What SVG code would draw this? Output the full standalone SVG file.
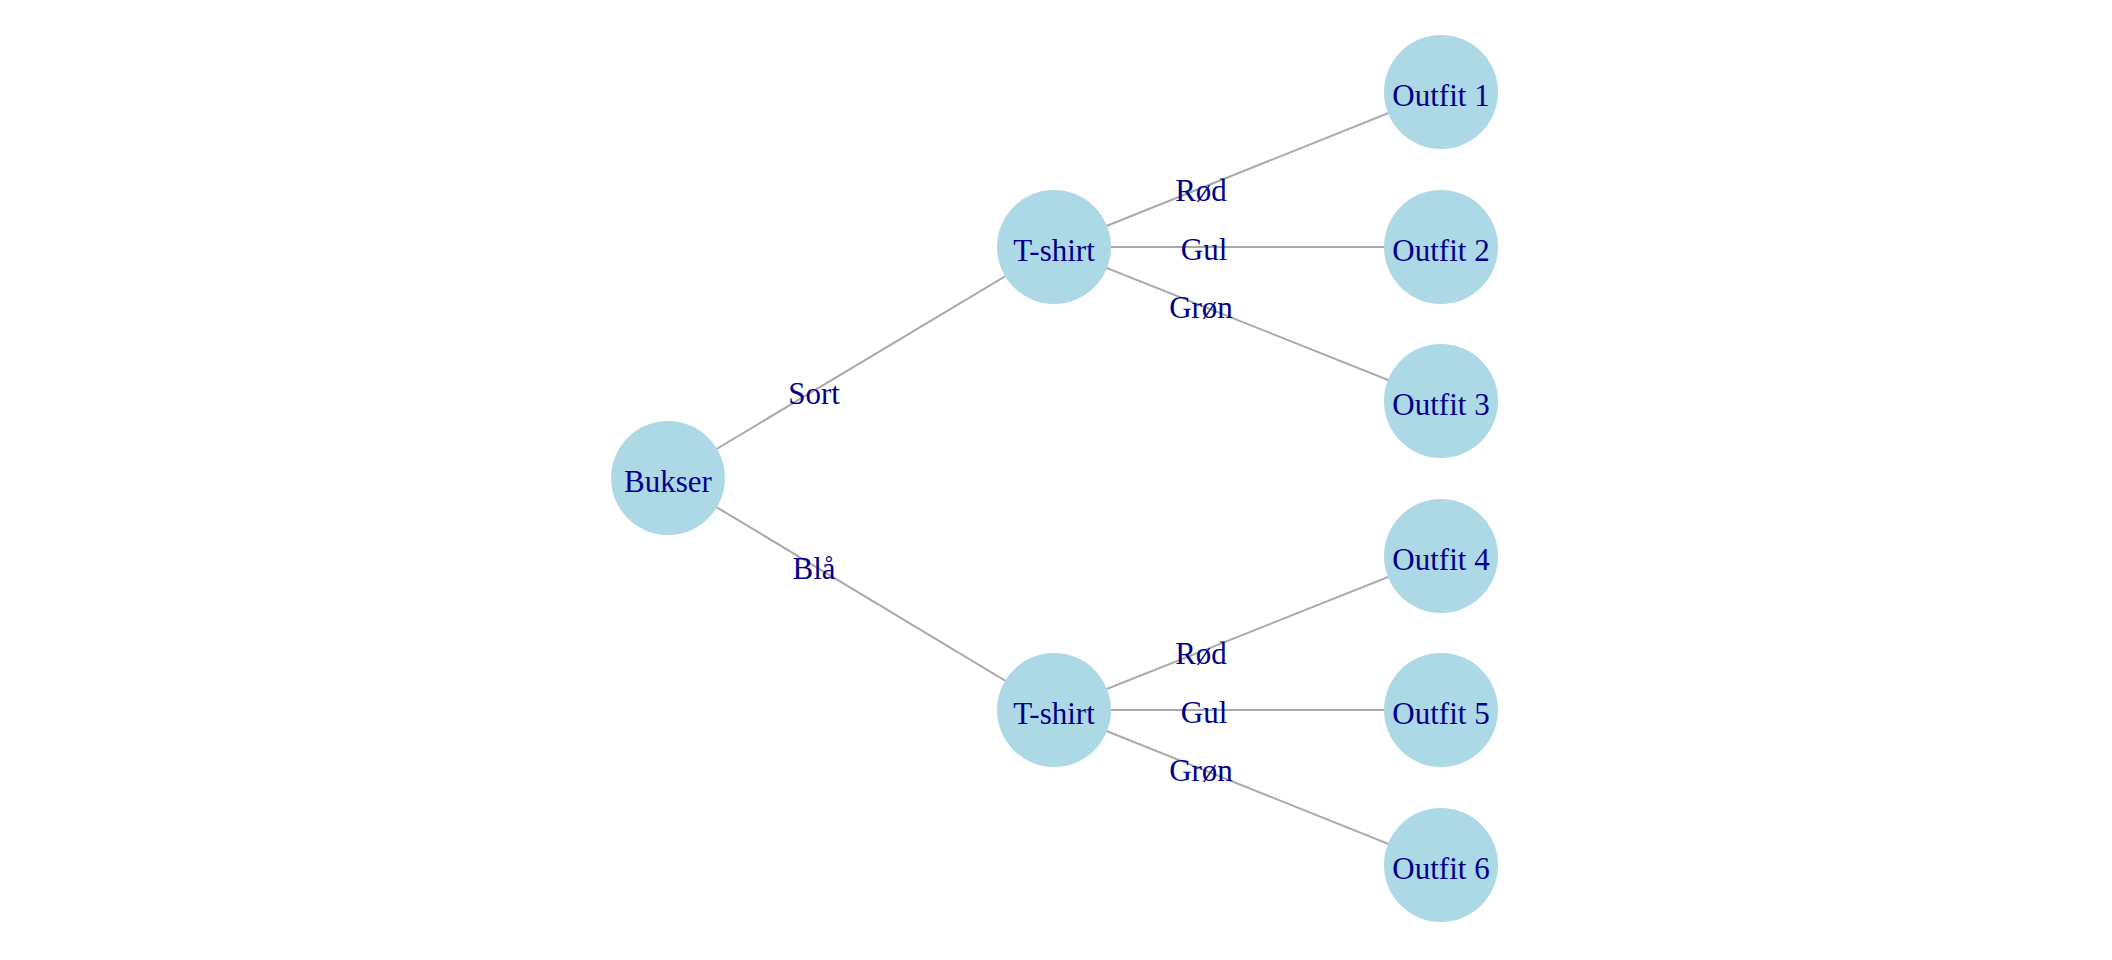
<svg xmlns="http://www.w3.org/2000/svg" width="2112" height="960" viewBox="0 0 2112 960">
<style>
.edge{stroke:#A9A9A9;stroke-width:2;fill:none}
.node circle{fill:#ADD8E6}
text{font-family:"Liberation Serif","Times New Roman",serif;font-size:31px;fill:#00008B;text-anchor:middle}
</style>
<rect width="2112" height="960" fill="#ffffff"/>
<g id="edges">
<line class="edge" x1="668" y1="478" x2="1054" y2="247"/>
<line class="edge" x1="668" y1="478" x2="1054" y2="710"/>
<line class="edge" x1="1054" y1="247" x2="1441" y2="92"/>
<line class="edge" x1="1054" y1="247" x2="1441" y2="247"/>
<line class="edge" x1="1054" y1="247" x2="1441" y2="401"/>
<line class="edge" x1="1054" y1="710" x2="1441" y2="556"/>
<line class="edge" x1="1054" y1="710" x2="1441" y2="710"/>
<line class="edge" x1="1054" y1="710" x2="1441" y2="865"/>
<text x="814" y="404">Sort</text>
<text x="814" y="579">Blå</text>
<text x="1201" y="201">Rød</text>
<text x="1204" y="260">Gul</text>
<text x="1201" y="318">Grøn</text>
<text x="1201" y="664">Rød</text>
<text x="1204" y="723">Gul</text>
<text x="1201" y="781">Grøn</text>
</g>
<g id="n-bukser" class="node"><circle cx="668" cy="478" r="57"/><text x="668" y="492">Bukser</text></g>
<g id="n-tshirt1" class="node"><circle cx="1054" cy="247" r="57"/><text x="1054" y="261">T-shirt</text></g>
<g id="n-tshirt2" class="node"><circle cx="1054" cy="710" r="57"/><text x="1054" y="724">T-shirt</text></g>
<g id="n-outfit1" class="node"><circle cx="1441" cy="92" r="57"/><text x="1441" y="106">Outfit 1</text></g>
<g id="n-outfit2" class="node"><circle cx="1441" cy="247" r="57"/><text x="1441" y="261">Outfit 2</text></g>
<g id="n-outfit3" class="node"><circle cx="1441" cy="401" r="57"/><text x="1441" y="415">Outfit 3</text></g>
<g id="n-outfit4" class="node"><circle cx="1441" cy="556" r="57"/><text x="1441" y="570">Outfit 4</text></g>
<g id="n-outfit5" class="node"><circle cx="1441" cy="710" r="57"/><text x="1441" y="724">Outfit 5</text></g>
<g id="n-outfit6" class="node"><circle cx="1441" cy="865" r="57"/><text x="1441" y="879">Outfit 6</text></g>
</svg>
